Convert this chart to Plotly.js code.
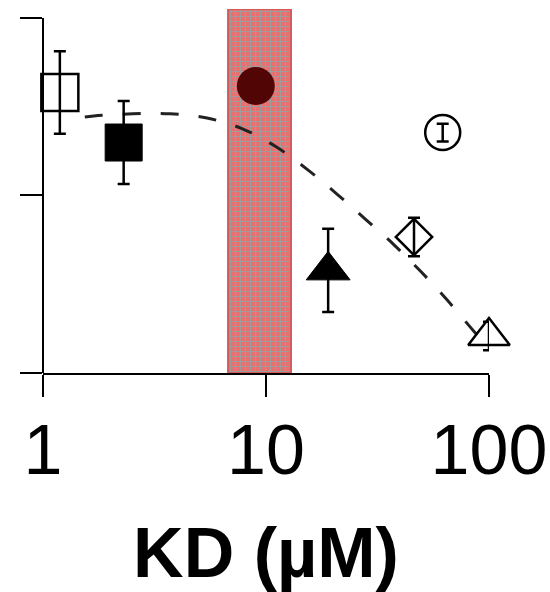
<!DOCTYPE html>
<html>
<head>
<meta charset="utf-8">
<script src="https://cdn.plot.ly/plotly-3.0.1.min.js"></script>
<style>html,body{margin:0;padding:0;background:#fff;}#chart{width:550px;height:592px;}</style>
</head>
<body>
<div id="chart"></div>
<script>
// Data
var xTickVals = [1, 10, 100];
var xTickText = ['1', '10', '100'];
var yTickVals = [0, 0.5, 1];

// shaded KD band (x range) and its height
var bandX = [6.76, 12.94];
var bandTop = 1.025;

// dashed fitted curve, points read along the dashes
var curveX = [1.54, 1.69, 2.53, 3.71, 5.44, 7.89, 11.1, 15.4, 20.8, 27.8, 37.5, 49.6, 64.8, 83.0, 88.4];
var curveY = [0.721, 0.724, 0.730, 0.730, 0.718, 0.687, 0.637, 0.572, 0.504, 0.434, 0.361, 0.285, 0.206, 0.127, 0.107];

// individual points: KD, value, error
var openSquareX = [1.19], openSquareY = [0.790], openSquareErr = [0.116];
var filledSquareX = [2.30], filledSquareY = [0.649], filledSquareErr = [0.117];
var redCircleX = [9.0], redCircleY = [0.808];
var openCircleX = [62], openCircleY = [0.677], openCircleErr = [0.025];
var openDiamondX = [46.1], openDiamondY = [0.383], openDiamondErr = [0.054];
var filledTriangleX = [19.0], filledTriangleY = [0.289], filledTriangleErr = [0.117];
var openTriangleX = [100], openTriangleY = [0.104], openTriangleErr = [0.040];

var errStyle = function (arr) {
  return {type: 'data', array: arr, visible: true, color: '#000', thickness: 2.5, width: 6};
};

var traces = [
  {
    x: [bandX[0], bandX[1], bandX[1], bandX[0], bandX[0]],
    y: [0, 0, bandTop, bandTop, 0],
    mode: 'lines', fill: 'toself',
    fillcolor: '#e46e6e',
    fillpattern: {shape: '+', bgcolor: '#ea6f6f', fgcolor: '#a09a9a', size: 5, solidity: 0.4},
    line: {color: '#d65858', width: 2},
    hoverinfo: 'skip', showlegend: false
  },
  {
    x: curveX, y: curveY, mode: 'lines',
    line: {color: '#222', width: 3, dash: '18px,20px', shape: 'spline', smoothing: 1},
    showlegend: false
  },
  {
    x: openSquareX, y: openSquareY, mode: 'markers', cliponaxis: false,
    error_y: errStyle(openSquareErr),
    marker: {symbol: 'square-open', size: 37, color: '#000', line: {width: 2.5, color: '#000'}},
    showlegend: false
  },
  {
    x: filledSquareX, y: filledSquareY, mode: 'markers', cliponaxis: false,
    error_y: errStyle(filledSquareErr),
    marker: {symbol: 'square', size: 37, color: '#000', line: {width: 1, color: '#000'}},
    showlegend: false
  },
  {
    x: redCircleX, y: redCircleY, mode: 'markers', cliponaxis: false,
    marker: {symbol: 'circle', size: 38, color: '#520505', line: {width: 0}},
    showlegend: false
  },
  {
    x: openCircleX, y: openCircleY, mode: 'markers', cliponaxis: false,
    error_y: errStyle(openCircleErr),
    marker: {symbol: 'circle-open', size: 35, color: '#000', line: {width: 2.5, color: '#000'}},
    showlegend: false
  },
  {
    x: openDiamondX, y: openDiamondY, mode: 'markers', cliponaxis: false,
    error_y: errStyle(openDiamondErr),
    marker: {symbol: 'diamond-open', size: 28, color: '#000', line: {width: 2.5, color: '#000'}},
    showlegend: false
  },
  {
    x: filledTriangleX, y: filledTriangleY, mode: 'markers', cliponaxis: false,
    error_y: errStyle(filledTriangleErr),
    marker: {symbol: 'triangle-up', size: 38, color: '#000', line: {width: 1, color: '#000'}},
    showlegend: false
  },
  {
    x: openTriangleX, y: openTriangleY, mode: 'markers', cliponaxis: false,
    error_y: errStyle(openTriangleErr),
    marker: {symbol: 'triangle-up-open', size: 36, color: '#000', line: {width: 2.5, color: '#000'}},
    showlegend: false
  }
];

var layout = {
  width: 550, height: 592,
  margin: {l: 43, r: 61, t: 9, b: 219},
  paper_bgcolor: '#fff', plot_bgcolor: '#fff',
  font: {family: '"Liberation Sans", Arial, sans-serif', color: '#000'},
  showlegend: false,
  xaxis: {
    type: 'log', range: [0, 2], autorange: false,
    tickmode: 'array', tickvals: xTickVals, ticktext: xTickText,
    ticks: 'outside', ticklen: 22, tickwidth: 2, tickcolor: '#000',
    ticklabelstandoff: -7,
    showline: true, linewidth: 2, linecolor: '#000',
    showgrid: false, zeroline: false,
    tickfont: {size: 70, family: '"Liberation Sans", Arial, sans-serif', color: '#000'},
    title: {text: '<b>KD (µM)</b>', font: {size: 70, family: '"Liberation Sans", Arial, sans-serif', color: '#000'}, standoff: 46},
    automargin: false
  },
  yaxis: {
    range: [0, bandTop], autorange: false,
    tickmode: 'array', tickvals: yTickVals, showticklabels: false,
    ticks: 'outside', ticklen: 22, tickwidth: 2, tickcolor: '#000',
    showline: false, showgrid: false, zeroline: false,
    automargin: false
  },
  shapes: [
    {type: 'line', xref: 'paper', yref: 'y', x0: 0, x1: 0, y0: 0, y1: 1,
     line: {color: '#000', width: 2}, layer: 'above'}
  ]
};

Plotly.newPlot('chart', traces, layout, {staticPlot: true, displayModeBar: false});
</script>
</body>
</html>
